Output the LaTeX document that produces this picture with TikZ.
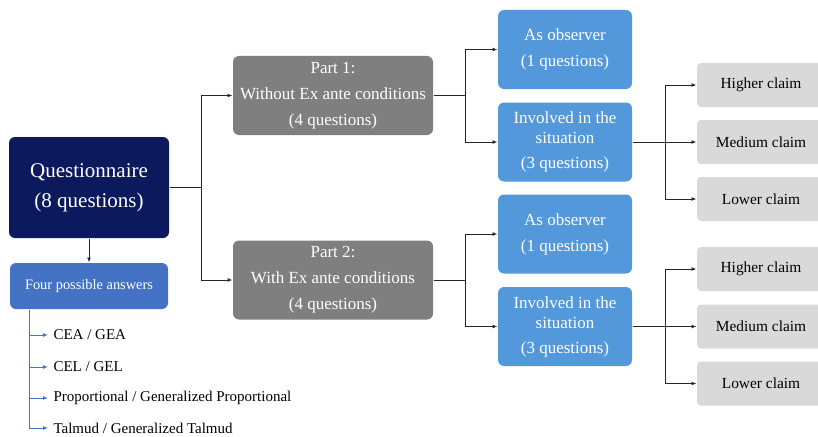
\documentclass[tikz,border=0pt]{standalone}
\usepackage{fontspec}
\setmainfont{Liberation Serif}
\usetikzlibrary{arrows.meta}
\definecolor{navy}{RGB}{12,25,92}
\definecolor{answerblue}{RGB}{68,114,196}
\definecolor{partgray}{RGB}{127,127,127}
\definecolor{roleblue}{RGB}{84,152,220}
\definecolor{claimgray}{RGB}{217,217,217}
\tikzstyle{mainbox}=[rounded corners=6pt,fill=navy,text=white,align=center,
minimum width=160pt,minimum height=101pt,font=\fontsize{21}{30}\selectfont]
\tikzstyle{answerbox}=[rounded corners=6pt,fill=answerblue,text=white,
minimum width=158pt,minimum height=46pt,font=\fontsize{14.4}{18}\selectfont]
\tikzstyle{partbox}=[rounded corners=6pt,fill=partgray,text=white,align=center,
minimum width=200pt,minimum height=79pt,font=\fontsize{17}{20}\selectfont]
\tikzstyle{rolebox}=[rounded corners=6pt,fill=roleblue,text=white,align=center,
minimum width=134pt,minimum height=79pt,font=\fontsize{17}{20}\selectfont]
\tikzstyle{claimbox}=[rounded corners=4pt,fill=claimgray,text=black,
minimum width=128pt,minimum height=44pt,font=\fontsize{15.4}{18}\selectfont]
\tikzstyle{answeritem}=[anchor=west,inner xsep=5pt,inner ysep=0pt,
font=\fontsize{15}{18}\selectfont]

\begin{document}
\begin{tikzpicture}[x=1pt,y=-1pt,line width=1pt,draw=black!85,
>={Latex[length=5pt,width=4pt]}]

	\useasboundingbox (0,0) rectangle (818,436);

	\node  (q)    at (89,187.5) [mainbox] {Questionnaire\\(8 questions)};
	\node  (ans)  at (89,286) [answerbox] {Four possible answers};
	\node  (l1)   at (48,335) [answeritem] {CEA / GEA};
	\node  (l2)   at (48,367) [answeritem] {CEL / GEL};
	\node  (l3)   at (48,398) [answeritem] {Proportional / Generalized Proportional};
	\node  (l4)   at (48,428) [answeritem] {Talmud / Generalized Talmud};
	\node  (p1)   at (333,95.5) [partbox] {Part 1:\\[6pt]Without Ex ante conditions\\[6pt](4 questions)};
	\node  (p2)   at (333,280) [partbox] {Part 2:\\[6pt]With Ex ante conditions\\[6pt](4 questions)};
	\node  (obs1) at (565,49.5) [rolebox] {As observer\\[6pt](1 questions)};
	\node  (inv1) at (565,142) [rolebox] {Involved in the\\situation\\[5pt](3 questions)};
	\node  (obs2) at (565,234) [rolebox] {As observer\\[6pt](1 questions)};
	\node  (inv2) at (565,326.5) [rolebox] {Involved in the\\situation\\[5pt](3 questions)};
	\node  (hc1)  at (761,85) [claimbox] {Higher claim};
	\node  (mc1)  at (761,142) [claimbox] {Medium claim};
	\node  (lc1)  at (761,199) [claimbox] {Lower claim};
	\node  (hc2)  at (761,269) [claimbox] {Higher claim};
	\node  (mc2)  at (761,326.5) [claimbox] {Medium claim};
	\node  (lc2)  at (761,383.5) [claimbox] {Lower claim};

	\draw [->] (q.south) to (ans.north);
	\draw [->] (q.east) -- ++(32,0) |- (p1.west);
	\draw [->] (q.east) -- ++(32,0) |- (p2.west);
	\draw [->] (p1.east) -- ++(32,0) |- (obs1.west);
	\draw [->] (p1.east) -- ++(32,0) |- (inv1.west);
	\draw [->] (p2.east) -- ++(32,0) |- (obs2.west);
	\draw [->] (p2.east) -- ++(32,0) |- (inv2.west);
	\draw [->] (inv1.east) -- ++(33,0) |- (hc1.west);
	\draw [->] (inv1.east) -- (mc1.west);
	\draw [->] (inv1.east) -- ++(33,0) |- (lc1.west);
	\draw [->] (inv2.east) -- ++(33,0) |- (hc2.west);
	\draw [->] (inv2.east) -- (mc2.west);
	\draw [->] (inv2.east) -- ++(33,0) |- (lc2.west);
	\draw [->,draw=answerblue] ([xshift=20pt]ans.south west) |- (l1.west);
	\draw [->,draw=answerblue] ([xshift=20pt]ans.south west) |- (l2.west);
	\draw [->,draw=answerblue] ([xshift=20pt]ans.south west) |- (l3.west);
	\draw [->,draw=answerblue] ([xshift=20pt]ans.south west) |- (l4.west);

\end{tikzpicture}
\end{document}
